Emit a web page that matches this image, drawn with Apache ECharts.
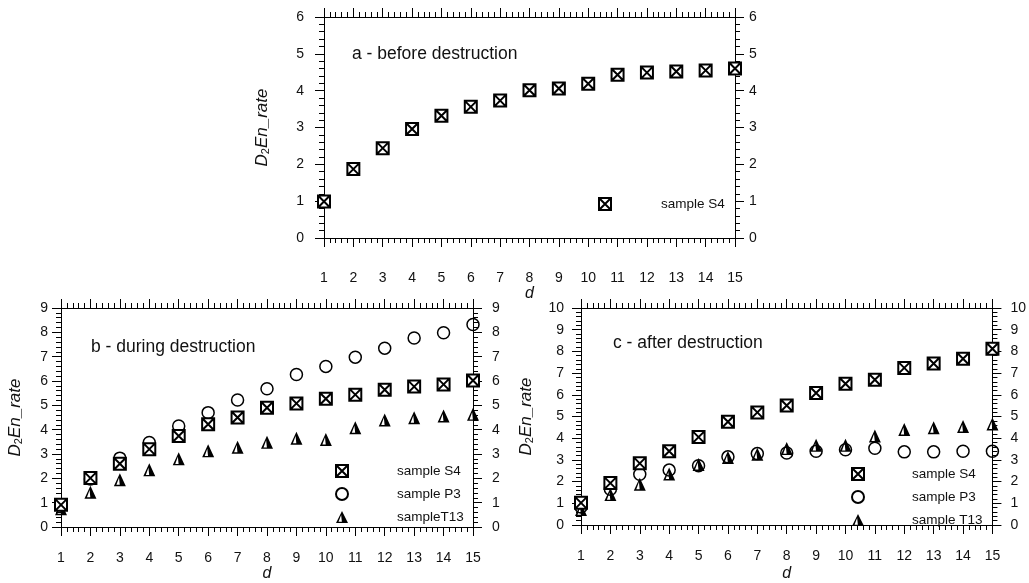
<!DOCTYPE html>
<html>
<head>
<meta charset="utf-8">
<title>D2En_rate</title>
<script src="https://cdn.jsdelivr.net/npm/echarts@6/dist/echarts.min.js"></script>
<style>
  html, body { margin: 0; padding: 0; background: #fff; }
  #chart { width: 1029px; height: 583px; }
</style>
</head>
<body>
<div id="chart"></div>
<script>
  // d values (x axis)
  const dValues = [1, 2, 3, 4, 5, 6, 7, 8, 9, 10, 11, 12, 13, 14, 15];

  // a - before destruction
  const aS4 = [0.99, 1.87, 2.44, 2.96, 3.32, 3.56, 3.73, 4.01, 4.06, 4.19, 4.43, 4.49, 4.52, 4.55, 4.60];

  // b - during destruction
  const bS4 = [0.91, 2.01, 2.60, 3.20, 3.74, 4.22, 4.50, 4.90, 5.08, 5.27, 5.44, 5.64, 5.77, 5.86, 6.02];
  const bP3 = [0.90, 1.97, 2.83, 3.47, 4.15, 4.70, 5.22, 5.68, 6.27, 6.60, 6.98, 7.35, 7.77, 7.98, 8.32];
  const bT13 = [0.75, 1.43, 1.94, 2.35, 2.80, 3.13, 3.28, 3.48, 3.65, 3.60, 4.08, 4.40, 4.49, 4.56, 4.63];

  // c - after destruction
  const cS4 = [1.02, 1.93, 2.84, 3.40, 4.05, 4.76, 5.19, 5.51, 6.08, 6.51, 6.69, 7.24, 7.44, 7.66, 8.12];
  const cP3 = [0.83, 1.65, 2.34, 2.53, 2.73, 3.14, 3.29, 3.32, 3.40, 3.47, 3.54, 3.37, 3.37, 3.40, 3.40];
  const cT13 = [0.71, 1.40, 1.88, 2.35, 2.79, 3.11, 3.26, 3.52, 3.67, 3.67, 4.10, 4.40, 4.48, 4.54, 4.66];

  const font = 'Liberation Sans, Arial, sans-serif';
  const squareSym = 'path://M0,0H12V12H0Z M0,0L12,12 M12,0L0,12';
  const triSym = 'path://M5,0L10,10L0,10Z M4.3,3.4L2.1,8.9L4.9,8.9Z';

  const pairs = (ys) => dValues.map((d, i) => [d, ys[i]]);

  // grid boxes, in px
  const grids = [
    { left: 324, top: 17, width: 411, height: 221 },
    { left: 61, top: 308, width: 412, height: 219 },
    { left: 581, top: 308, width: 413, height: 219 }
  ];
  const yMax = [6, 9, 10];
  const leftMargin = [20, 13, 17];
  const rightMargin = [14, 19, 18];
  const bottomMargin = [33, 24, 24];
  const xNameGap = [43, 39, 41];
  const yNameGap = [53, 37, 46];

  const tick = { show: true, inside: false, length: 9, lineStyle: { color: '#000', width: 1 } };
  const minor = { show: true, splitNumber: 5, length: 5, lineStyle: { color: '#000', width: 1 } };
  const line = { show: true, onZero: false, lineStyle: { color: '#000', width: 1 } };
  const lbl = { color: '#111', fontSize: 14, fontFamily: font };

  let xAxis = [], yAxis = [];
  grids.forEach((g, i) => {
    xAxis.push({
      type: 'value', gridIndex: i, position: 'bottom', min: 1, max: 15, interval: 1,
      axisLine: line, axisTick: tick, minorTick: minor, splitLine: { show: false },
      axisLabel: Object.assign({ margin: bottomMargin[i] }, lbl),
      name: 'd', nameLocation: 'middle', nameGap: xNameGap[i],
      nameTextStyle: { fontStyle: 'italic', fontSize: 16, fontFamily: font, color: '#111' }
    });
    xAxis.push({
      type: 'value', gridIndex: i, position: 'top', min: 1, max: 15, interval: 1,
      axisLine: line, axisTick: tick, minorTick: minor, splitLine: { show: false },
      axisLabel: { show: false }
    });
    yAxis.push({
      type: 'value', gridIndex: i, position: 'left', min: 0, max: yMax[i], interval: 1,
      axisLine: line, axisTick: tick, minorTick: minor, splitLine: { show: false },
      axisLabel: Object.assign({ margin: leftMargin[i] }, lbl),
      name: '{i|D}{s|2}{i|En_rate}', nameLocation: 'middle', nameGap: yNameGap[i], nameRotate: 90,
      nameTextStyle: {
        color: '#111',
        rich: {
          i: { fontStyle: 'italic', fontSize: 17, fontFamily: font, color: '#111' },
          s: { fontSize: 11, fontFamily: font, color: '#111', verticalAlign: 'bottom', padding: [7, 0, 0, 0] }
        }
      }
    });
    yAxis.push({
      type: 'value', gridIndex: i, position: 'right', min: 0, max: yMax[i], interval: 1,
      axisLine: line, axisTick: tick, minorTick: minor, splitLine: { show: false },
      axisLabel: Object.assign({ margin: rightMargin[i] }, lbl)
    });
  });

  function sq(name, grid, ys) {
    return {
      name: name, type: 'scatter', xAxisIndex: grid * 2, yAxisIndex: grid * 2, z: 4,
      symbol: squareSym, symbolSize: 12, data: pairs(ys),
      itemStyle: { color: '#fff', borderColor: '#000', borderWidth: 2, opacity: 1 }
    };
  }
  function circ(name, grid, ys) {
    return {
      name: name, type: 'scatter', xAxisIndex: grid * 2, yAxisIndex: grid * 2, z: 2,
      symbol: 'circle', symbolSize: 12, data: pairs(ys),
      itemStyle: { color: 'rgba(255,255,255,0)', borderColor: '#000', borderWidth: 1.5, opacity: 1 }
    };
  }
  function tri(name, grid, ys) {
    return {
      name: name, type: 'scatter', xAxisIndex: grid * 2, yAxisIndex: grid * 2, z: 3,
      symbol: triSym, symbolSize: [12, 13], data: pairs(ys),
      itemStyle: { color: '#000', borderWidth: 0, opacity: 1 }
    };
  }

  const series = [
    sq('sample S4', 0, aS4),
    circ('sample P3', 1, bP3), tri('sampleT13', 1, bT13), sq('sample S4', 1, bS4),
    circ('sample P3', 2, cP3), tri('sample T13', 2, cT13), sq('sample S4', 2, cS4)
  ];

  const legendText = { fontSize: 13.5, fontFamily: font, color: '#111', lineHeight: 14 };
  function legend(left, top, items, pad) {
    return {
      left: left, top: top, orient: 'vertical', padding: 0, itemWidth: 12, itemHeight: 12, itemGap: 9,
      selectedMode: false, data: items,
      textStyle: Object.assign({ padding: [0, 0, 0, pad] }, legendText)
    };
  }

  const option = {
    animation: false,
    backgroundColor: '#fff',
    grid: grids,
    xAxis: xAxis,
    yAxis: yAxis,
    title: [
      { text: 'a - before destruction', left: 352, top: 45 },
      { text: 'b - during destruction', left: 91, top: 338 },
      { text: 'c - after destruction', left: 613, top: 334 }
    ].map(t => Object.assign(t, { padding: 0, textStyle: { fontSize: 17.5, fontWeight: 'normal', fontFamily: font, color: '#111' } })),
    legend: [
      legend(598, 197, [{ name: 'sample S4', icon: squareSym }], 45),
      legend(335, 464, [
        { name: 'sample S4', icon: squareSym },
        { name: 'sample P3', icon: 'circle' },
        { name: 'sampleT13', icon: triSym }
      ], 44),
      legend(851, 467, [
        { name: 'sample S4', icon: squareSym },
        { name: 'sample P3', icon: 'circle' },
        { name: 'sample T13', icon: triSym }
      ], 43)
    ],
    series: series
  };

  const chart = echarts.init(document.getElementById('chart'));
  chart.setOption(option);
</script>
</body>
</html>
